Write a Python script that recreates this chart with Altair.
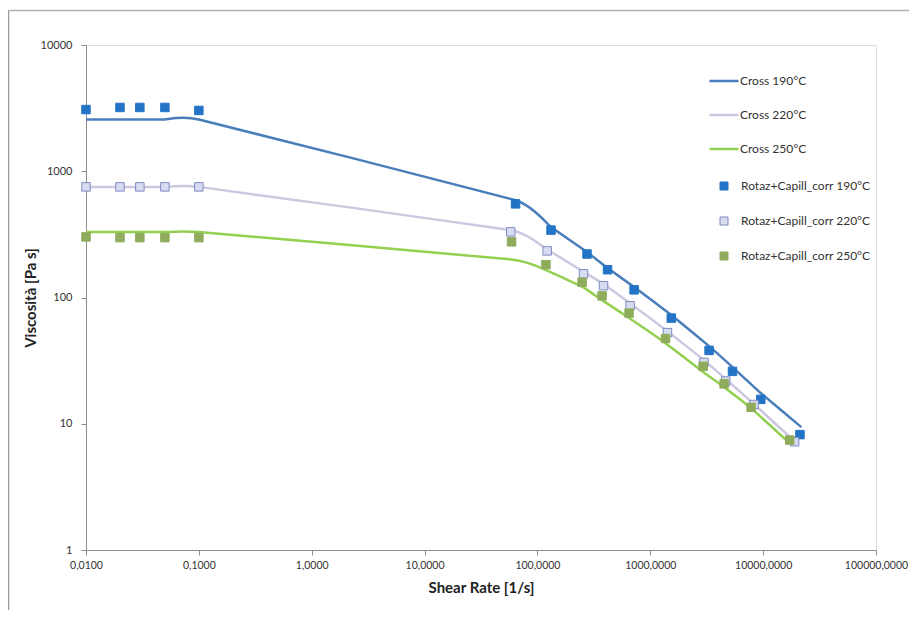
import altair as alt
import pandas as pd

FONT = "Lato"

# ---- Cross model curves ----
cross_190_rate = [0.01, 0.02, 0.03, 0.05, 0.1, 64, 132, 275, 418, 719, 1535, 3320, 5350, 9530, 21800]
cross_190_visc = [2570, 2570, 2570, 2570, 2570, 590, 361, 229, 171, 121, 72.6, 41.2, 28.1, 17.5, 9.4]

cross_220_rate = [0.01, 0.02, 0.03, 0.05, 0.1, 58, 122, 256, 385, 662, 1420, 2990, 4660, 8300, 19500]
cross_220_visc = [752, 752, 752, 752, 752, 342, 240, 160, 128, 90, 54, 31.9, 22.6, 14.3, 7.1]

cross_250_rate = [0.01, 0.02, 0.03, 0.05, 0.1, 59, 119, 249, 374, 649, 1365, 2940, 4510, 7820, 17200]
cross_250_visc = [330, 330, 330, 330, 330, 200, 165, 122, 95.3, 68.7, 43.5, 25.7, 19.5, 13.3, 7.0]

# ---- Measured data: Rotaz+Capill_corr ----
meas_190_rate = [0.01, 0.02, 0.03, 0.05, 0.1, 64, 132, 275, 418, 719, 1535, 3320, 5350, 9530, 21200]
meas_190_visc = [3080, 3200, 3200, 3200, 3030, 552, 342, 221, 166, 115, 68.7, 38.1, 26.0, 15.6, 8.2]

meas_220_rate = [0.01, 0.02, 0.03, 0.05, 0.1, 58, 122, 256, 385, 662, 1420, 2990, 4660, 8300, 19000]
meas_220_visc = [752, 752, 752, 752, 752, 331, 234, 154, 124, 86, 52.7, 30.6, 21.8, 14.2, 7.2]

meas_250_rate = [0.01, 0.02, 0.03, 0.05, 0.1, 59, 119, 249, 374, 649, 1365, 2940, 4510, 7820, 17200]
meas_250_visc = [302, 298, 298, 298, 298, 276, 182, 132, 103, 75.3, 47.3, 28.5, 20.7, 13.5, 7.43]

line_names = ["Cross 190°C", "Cross 220°C", "Cross 250°C"]
line_colors = ["#4a7ebb", "#cdc8e0", "#92d050"]
point_names = ["Rotaz+Capill_corr 190°C", "Rotaz+Capill_corr 220°C", "Rotaz+Capill_corr 250°C"]
point_fills = ["#2374c6", "#d8dcf0", "#8fac5c"]
point_strokes = ["#2374c6", "#7f8ac2", "#8fac5c"]

x_ticks = [0.01, 0.1, 1, 10, 100, 1000, 10000, 100000]
y_ticks = [1, 10, 100, 1000, 10000]

lines_df = pd.concat([
    pd.DataFrame({"rate": r, "visc": v, "serie": n, "order": range(len(r))})
    for r, v, n in [(cross_190_rate, cross_190_visc, line_names[0]),
                    (cross_220_rate, cross_220_visc, line_names[1]),
                    (cross_250_rate, cross_250_visc, line_names[2])]
])
points_df = pd.concat([
    pd.DataFrame({"rate": r, "visc": v, "misura": n})
    for r, v, n in [(meas_190_rate, meas_190_visc, point_names[0]),
                    (meas_220_rate, meas_220_visc, point_names[1]),
                    (meas_250_rate, meas_250_visc, point_names[2])]
])

x_enc = alt.X("rate:Q",
              scale=alt.Scale(type="log", domain=[0.01, 100000], nice=False),
              axis=alt.Axis(values=x_ticks, title="Shear Rate [1/s]",
                            labelExpr="replace(format(datum.value, '.4f'), '.', ',')",
                            grid=False, tickSize=5, labelPadding=5, titlePadding=10,
                            domainColor="#8c8c8c", tickColor="#8c8c8c",
                            labelColor="#333333", labelFontSize=10.5, labelFont=FONT,
                            titleFont=FONT, titleFontSize=15, titleFontWeight="bold",
                            titleColor="#222222", labelFlush=False))
y_enc = alt.Y("visc:Q",
              scale=alt.Scale(type="log", domain=[1, 10000], nice=False),
              axis=alt.Axis(values=y_ticks, title="Viscosità [Pa s]", format="d",
                            grid=False, tickSize=5, labelPadding=9, titlePadding=2,
                            domainColor="#8c8c8c", tickColor="#8c8c8c",
                            labelColor="#333333", labelFontSize=11, labelFont=FONT,
                            titleFont=FONT, titleFontSize=15, titleFontWeight="bold",
                            titleColor="#222222", labelFlush=False))

lines = alt.Chart(lines_df).mark_line(strokeWidth=2.5, interpolate="cardinal", tension=0.7).encode(
    x=x_enc, y=y_enc,
    order="order:Q",
    color=alt.Color("serie:N",
                    scale=alt.Scale(domain=line_names, range=line_colors),
                    legend=alt.Legend(orient="none", legendX=622, legendY=20, title=None,
                                      symbolType="stroke", symbolSize=841,
                                      symbolStrokeWidth=2.5, labelOffset=0,
                                      labelFont=FONT, labelFontSize=12,
                                      labelColor="#333333", rowPadding=12, padding=0)),
)

pt_legend = alt.Legend(orient="none", legendX=632, legendY=135, title=None,
                       symbolType="square", symbolSize=64, symbolStrokeWidth=1,
                       labelOffset=11, labelFont=FONT, labelFontSize=12,
                       labelColor="#333333", rowPadding=23, padding=0)

points = alt.Chart(points_df).mark_square(size=72, opacity=1, strokeWidth=1).encode(
    x="rate:Q", y="visc:Q",
    fill=alt.Fill("misura:N", scale=alt.Scale(domain=point_names, range=point_fills),
                  legend=pt_legend),
    stroke=alt.Stroke("misura:N", scale=alt.Scale(domain=point_names, range=point_strokes),
                      legend=pt_legend),
)

frame_df = pd.DataFrame({"k": [0]})
frame_left = alt.Chart(frame_df).mark_rule(color="#9a9a9a", strokeWidth=1.5).encode(
    x=alt.value(-77.5), y=alt.value(-34.5), y2=alt.value(566)
)
frame_top = alt.Chart(frame_df).mark_rule(color="#b0b0b0", strokeWidth=1.5).encode(
    x=alt.value(-77.5), x2=alt.value(823), y=alt.value(-34.5)
)

chart = alt.layer(frame_left, frame_top, lines, points).resolve_scale(
    color="independent", fill="independent", stroke="independent"
).properties(
    width=790, height=505,
    autosize=alt.AutoSizeParams(type="none"),
    padding={"left": 78, "top": 37, "right": 33, "bottom": 60},
).configure_view(stroke=None).configure(font=FONT)

chart.save("out.html", embed_options={"renderer": "svg", "actions": False})
